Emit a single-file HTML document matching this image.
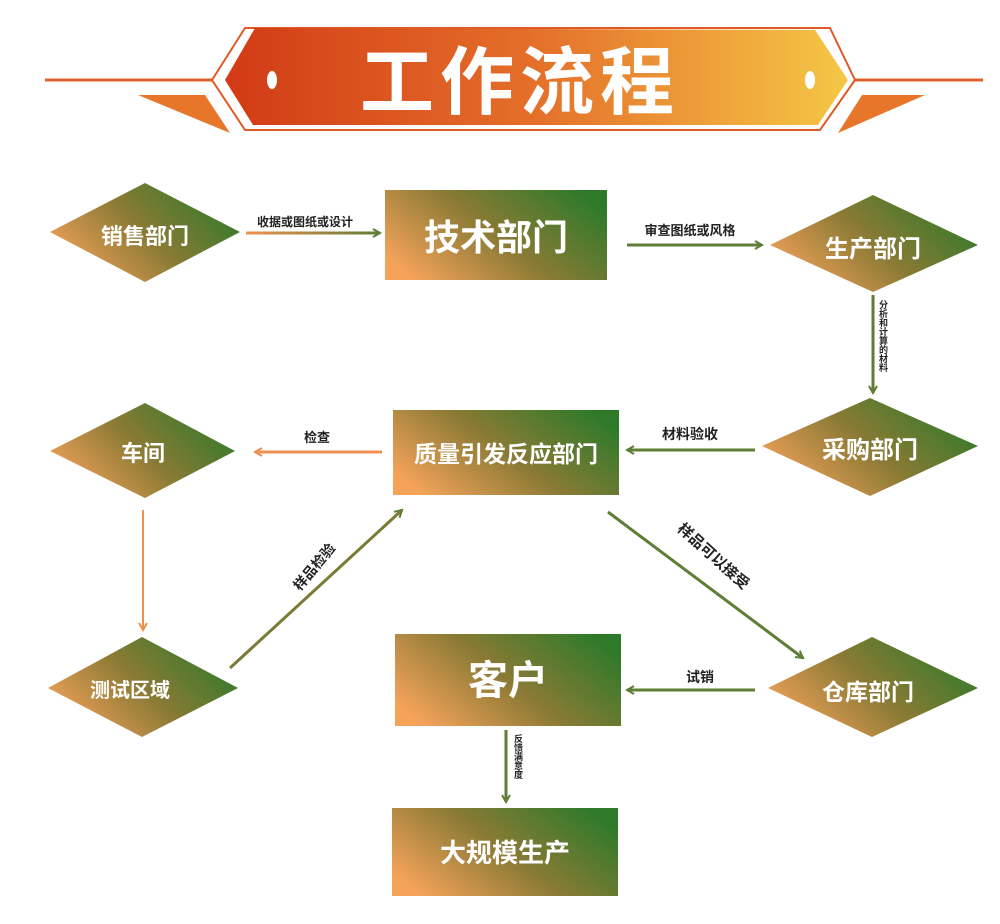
<!DOCTYPE html>
<html><head><meta charset="utf-8"><style>
html,body{margin:0;padding:0;background:#fff}
svg{display:block}
text{font-family:"Liberation Sans","Noto Sans CJK SC",sans-serif;font-weight:bold}
</style></head><body>
<svg width="1000" height="924" viewBox="0 0 1000 924" xmlns="http://www.w3.org/2000/svg">
<defs>
<linearGradient id="g" x1="0" y1="0.75" x2="1" y2="0.25">
<stop offset="0" stop-color="#f6a35a"/><stop offset="0.5" stop-color="#8a7a35"/><stop offset="1" stop-color="#2f7a2a"/>
</linearGradient>
<linearGradient id="hb" x1="0" y1="0" x2="1" y2="0">
<stop offset="0" stop-color="#d23a15"/><stop offset="0.5" stop-color="#e4702a"/><stop offset="1" stop-color="#f5c845"/>
</linearGradient>
<linearGradient id="ol" gradientUnits="userSpaceOnUse" x1="246" y1="0" x2="380" y2="0">
<stop offset="0" stop-color="#f09050"/><stop offset="1" stop-color="#5e7e35"/>
</linearGradient>
<marker id="ag" markerWidth="10" markerHeight="10" refX="8" refY="5" orient="auto" markerUnits="userSpaceOnUse">
<path d="M1,1 L8,5 L1,9" fill="none" stroke="#5e7e35" stroke-width="2"/></marker>
<marker id="ao" markerWidth="10" markerHeight="10" refX="8" refY="5" orient="auto" markerUnits="userSpaceOnUse">
<path d="M1,1 L8,5 L1,9" fill="none" stroke="#f09050" stroke-width="2"/></marker>
</defs>

<!-- header -->
<line x1="45" y1="80" x2="212" y2="80" stroke="#e0602a" stroke-width="3"/>
<line x1="855" y1="80" x2="983" y2="80" stroke="#e0602a" stroke-width="3"/>
<polygon points="138,95 205,95 230,133" fill="#e8762a"/>
<polygon points="862,95 925,95 838,133" fill="#e8762a"/>
<polygon points="212,80 245,28 830,28 855,80 820,130 245,130" fill="none" stroke="#e05a25" stroke-width="2"/>
<polygon points="225,80 255,28 815,30 848,80 818,125 253,125" fill="url(#hb)"/>
<ellipse cx="272" cy="80" rx="5" ry="9" fill="#fff"/>
<ellipse cx="810" cy="80" rx="5" ry="9" fill="#fff"/>
<text x="520" y="108" text-anchor="middle" font-size="74" fill="#fff" letter-spacing="6" style="font-family:'Noto Sans CJK SC',sans-serif;font-weight:700">工作流程</text>

<!-- nodes -->
<polygon points="145,183 240,232 145,282 50,232" fill="url(#g)"/>
<text x="145" y="244" text-anchor="middle" font-size="22" fill="#fff">销售部门</text>
<rect x="385" y="190" width="222" height="90" fill="url(#g)"/>
<text x="496" y="250" text-anchor="middle" font-size="36" fill="#fff">技术部门</text>
<polygon points="873,195 978,245 873,292 770,245" fill="url(#g)"/>
<text x="873" y="257" text-anchor="middle" font-size="24" fill="#fff">生产部门</text>
<polygon points="870,398 978,446 870,496 762,446" fill="url(#g)"/>
<text x="870" y="458" text-anchor="middle" font-size="24" fill="#fff">采购部门</text>
<rect x="393" y="410" width="226" height="85" fill="url(#g)"/>
<text x="506" y="462" text-anchor="middle" font-size="23" fill="#fff">质量引发反应部门</text>
<polygon points="145,403 235,451 145,498 50,451" fill="url(#g)"/>
<text x="143" y="461" text-anchor="middle" font-size="22" fill="#fff">车间</text>
<polygon points="142,637 238,688 142,737 48,688" fill="url(#g)"/>
<text x="130" y="697" text-anchor="middle" font-size="20" fill="#fff">测试区域</text>
<rect x="395" y="634" width="226" height="92" fill="url(#g)"/>
<text x="508" y="694" text-anchor="middle" font-size="40" fill="#fff">客户</text>
<polygon points="872,637 978,688 872,737 768,688" fill="url(#g)"/>
<text x="868" y="700" text-anchor="middle" font-size="23" fill="#fff">仓库部门</text>
<rect x="392" y="808" width="226" height="88" fill="url(#g)"/>
<text x="505" y="862" text-anchor="middle" font-size="26" fill="#fff">大规模生产</text>

<!-- connectors -->
<line x1="246" y1="233" x2="380" y2="233" stroke="url(#ol)" stroke-width="3" marker-end="url(#ag)"/>
<text x="305" y="226" text-anchor="middle" font-size="12" fill="#222">收据或图纸或设计</text>
<line x1="627" y1="245" x2="762" y2="245" stroke="#5e7e35" stroke-width="3" marker-end="url(#ag)"/>
<text x="690" y="235" text-anchor="middle" font-size="13" fill="#222">审查图纸或风格</text>
<line x1="873" y1="295" x2="873" y2="393" stroke="#5e7e35" stroke-width="3" marker-end="url(#ag)"/>
<text x="883" y="300" font-size="9" fill="#222" style="writing-mode:vertical-rl">分析和计算的材料</text>
<line x1="755" y1="450" x2="627" y2="450" stroke="#5e7e35" stroke-width="3" marker-end="url(#ag)"/>
<text x="690" y="439" text-anchor="middle" font-size="14" fill="#222">材料验收</text>
<line x1="382" y1="452" x2="255" y2="452" stroke="#f09050" stroke-width="3" marker-end="url(#ao)"/>
<text x="317" y="442" text-anchor="middle" font-size="13" fill="#222">检查</text>
<line x1="143" y1="510" x2="143" y2="630" stroke="#f09050" stroke-width="2" marker-end="url(#ao)"/>
<line x1="230" y1="668" x2="402" y2="510" stroke="#7a7a35" stroke-width="3" marker-end="url(#ag)"/>
<text transform="translate(318,570) rotate(-50)" text-anchor="middle" font-size="14" fill="#222">样品检验</text>
<line x1="608" y1="512" x2="803" y2="658" stroke="#5e7e35" stroke-width="3" marker-end="url(#ag)"/>
<text transform="translate(710,560) rotate(42)" text-anchor="middle" font-size="15" fill="#222">样品可以接受</text>
<line x1="755" y1="690" x2="627" y2="690" stroke="#5e7e35" stroke-width="3" marker-end="url(#ag)"/>
<text x="700" y="682" text-anchor="middle" font-size="14" fill="#222">试销</text>
<line x1="506" y1="730" x2="506" y2="802" stroke="#5e7e35" stroke-width="3" marker-end="url(#ag)"/>
<text x="518" y="734" font-size="9" fill="#222" style="writing-mode:vertical-rl">反馈满意度</text>
</svg>
</body></html>
